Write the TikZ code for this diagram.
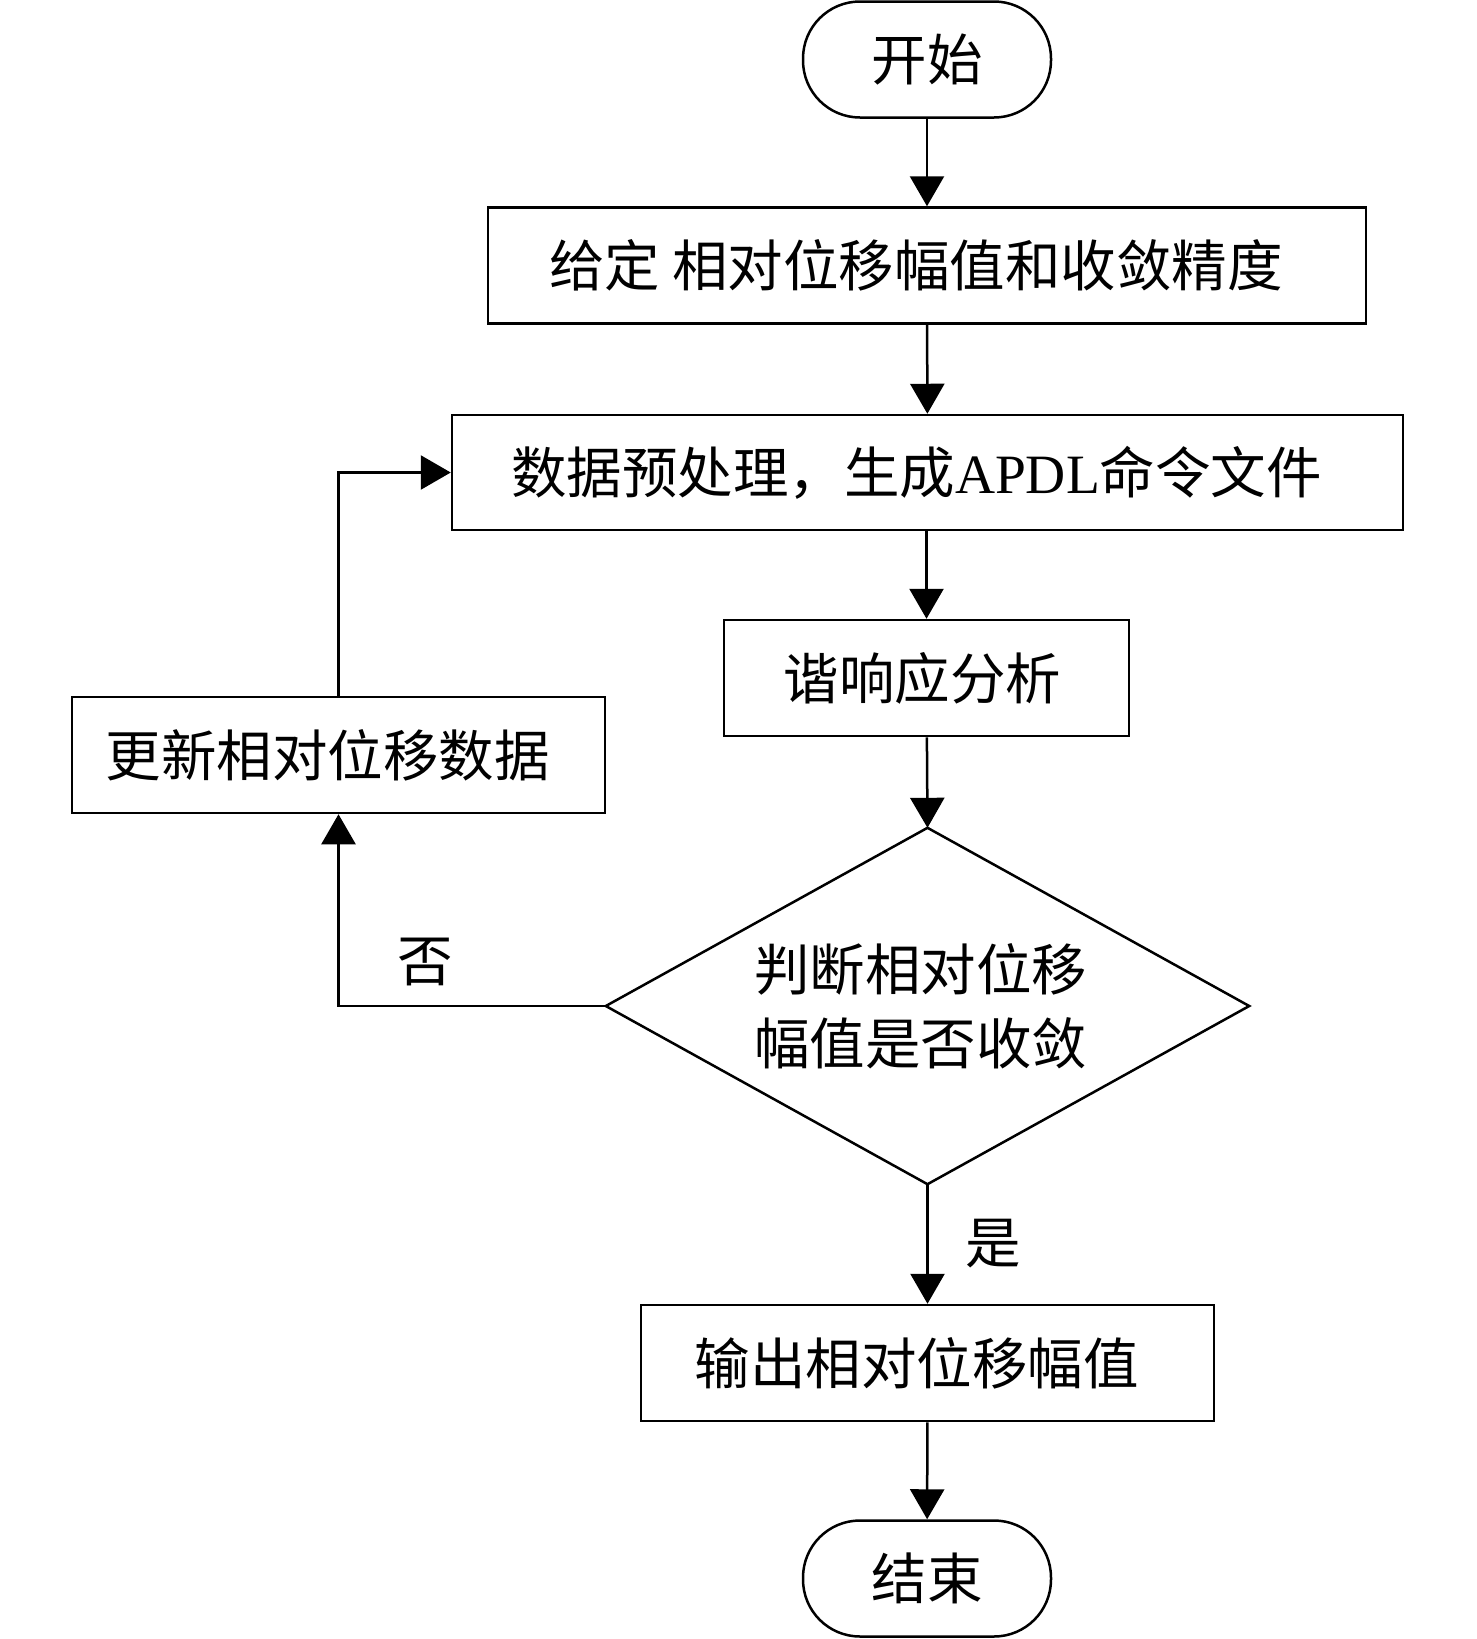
\documentclass[tikz,border=0pt]{standalone}
\usepackage{fontspec}
\setmainfont{Noto Sans CJK SC}
\newfontfamily\lat{Liberation Serif}
\usetikzlibrary{arrows.meta}
\begin{document}
\begin{tikzpicture}[x=1pt,y=-1pt,
  every node/.style={inner sep=0pt, font=\fontsize{55.5}{74}\selectfont},
  procbox/.style={draw, line width=2.5pt, rectangle, minimum height=116pt},
  term/.style={draw, line width=2.5pt, rectangle, rounded corners=57pt, minimum width=248pt, minimum height=116pt},
  conn/.style={line width=2.5pt, -{Triangle[length=30pt,width=34pt]}},
  plain/.style={line width=2.5pt}
]
\useasboundingbox (0,0) rectangle (1476,1639);
\node[term] (start) at (927,59.5) {开始};
\node[procbox, minimum width=878pt] (b1) at (927,265.5) {给定 相对位移幅值和收敛精度\kern22pt};
\node[procbox, minimum width=951pt, minimum height=115pt] (b2) at (927.5,472.5) {数据预处理，生成{\lat APDL}命令文件\kern22pt};
\node[procbox, minimum width=405pt] (b3) at (926.5,678) {谐响应分析\kern8pt};
\node[procbox, minimum width=533pt] (upd) at (338.5,755) {更新相对位移数据\kern22pt};
\node[minimum width=643pt, minimum height=356pt, align=center] (dec) at (927.5,1006) {判断相对位移\kern14pt\\幅值是否收敛\kern14pt};
\draw[plain, line join=miter] (dec.north) -- (dec.east) -- (dec.south) -- (dec.west) -- cycle;
\node[procbox, minimum width=573pt] (out) at (927.5,1363) {输出相对位移幅值\kern22pt};
\node[term] (end) at (927,1578.5) {结束};
\node (no) at (425,962) {否};
\node (yes) at (993,1244) {是};
\draw[conn] (start) -- (b1);
\draw[conn] (b1) -- (b2);
\draw[conn] (b2.south -| b3.north) -- (b3);
\draw[conn] (b3) -- (dec.north);
\draw[conn] (dec.south) -- (out.north -| dec.south);
\draw[conn] (out) -- (end);
\draw[conn] (dec.west) -| (upd.south);
\draw[conn] (upd.north) |- (b2.west);
\end{tikzpicture}
\end{document}
